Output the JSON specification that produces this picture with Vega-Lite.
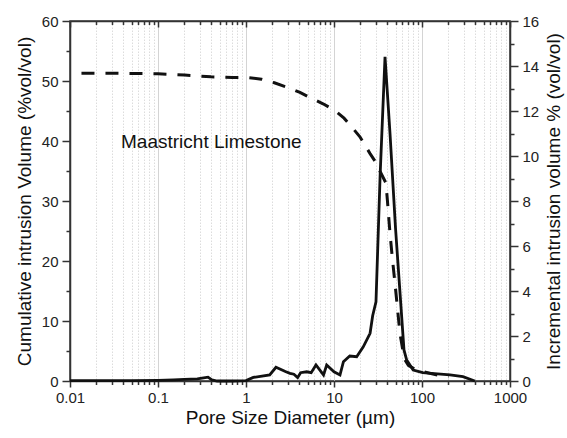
{
  "$schema": "https://vega.github.io/schema/vega-lite/v6.json",
  "width": 440,
  "height": 360,
  "autosize": {"type": "none"},
  "padding": {"left": 70, "top": 21, "right": 57, "bottom": 57},
  "background": "white",
  "config": {
    "view": {"stroke": "#333", "strokeWidth": 1.5},
    "axis": {
      "labelFont": "Liberation Sans", "labelFontSize": 15, "labelColor": "#222",
      "titleFont": "Liberation Sans", "titleFontSize": 19, "titleFontWeight": "normal", "titleColor": "#111",
      "domainColor": "#333", "domainWidth": 1.5, "tickColor": "#333", "tickWidth": 1.5,
      "labelFlush": false, "labelOverlap": false
    }
  },
  "datasets": {
    "cumulative": [
      {"d": 0.0135, "v": 51.3}, {"d": 0.03, "v": 51.3}, {"d": 0.06, "v": 51.25}, {"d": 0.1, "v": 51.2},
      {"d": 0.2, "v": 51.0}, {"d": 0.4, "v": 50.7}, {"d": 0.7, "v": 50.6}, {"d": 1.0, "v": 50.6},
      {"d": 1.5, "v": 50.3}, {"d": 2.1, "v": 49.7}, {"d": 3.0, "v": 48.9}, {"d": 4.1, "v": 48.1},
      {"d": 5.6, "v": 47.1}, {"d": 7.5, "v": 46.2}, {"d": 10.2, "v": 45.1}, {"d": 13.0, "v": 43.8},
      {"d": 15.8, "v": 42.4}, {"d": 19.7, "v": 40.7}, {"d": 25.7, "v": 37.9}, {"d": 30.0, "v": 36.4},
      {"d": 33.2, "v": 35.0}, {"d": 38.9, "v": 33.0}, {"d": 40.4, "v": 30.2}, {"d": 43.3, "v": 24.6},
      {"d": 46.0, "v": 20.5}, {"d": 49.3, "v": 16.3}, {"d": 56.2, "v": 7.9}, {"d": 61.4, "v": 4.6},
      {"d": 64.1, "v": 3.5}, {"d": 70.0, "v": 2.6}, {"d": 85.0, "v": 1.9}, {"d": 100.0, "v": 1.6},
      {"d": 137.0, "v": 1.1}, {"d": 200.0, "v": 0.7}
    ],
    "incremental": [
      {"d": 0.01, "v": 0.02}, {"d": 0.05, "v": 0.02}, {"d": 0.1, "v": 0.03}, {"d": 0.15, "v": 0.05},
      {"d": 0.2, "v": 0.07}, {"d": 0.28, "v": 0.09}, {"d": 0.33, "v": 0.14}, {"d": 0.37, "v": 0.17},
      {"d": 0.41, "v": 0.05}, {"d": 0.47, "v": 0.0}, {"d": 0.7, "v": 0.0}, {"d": 1.0, "v": 0.02},
      {"d": 1.21, "v": 0.16}, {"d": 1.86, "v": 0.27}, {"d": 2.19, "v": 0.61}, {"d": 2.8, "v": 0.42},
      {"d": 3.16, "v": 0.34}, {"d": 3.5, "v": 0.3}, {"d": 3.86, "v": 0.15}, {"d": 4.17, "v": 0.37},
      {"d": 4.9, "v": 0.41}, {"d": 5.5, "v": 0.37}, {"d": 6.24, "v": 0.71}, {"d": 7.6, "v": 0.27},
      {"d": 8.26, "v": 0.71}, {"d": 10.0, "v": 0.41}, {"d": 11.7, "v": 0.27}, {"d": 12.8, "v": 0.86},
      {"d": 15.1, "v": 1.11}, {"d": 18.1, "v": 1.08}, {"d": 21.5, "v": 1.52}, {"d": 25.7, "v": 2.12},
      {"d": 27.5, "v": 2.9}, {"d": 30.0, "v": 3.52}, {"d": 33.4, "v": 9.1}, {"d": 38.0, "v": 14.41},
      {"d": 43.3, "v": 11.0}, {"d": 50.0, "v": 6.8}, {"d": 62.4, "v": 1.38}, {"d": 67.0, "v": 0.93},
      {"d": 79.4, "v": 0.49}, {"d": 102.0, "v": 0.37}, {"d": 150.0, "v": 0.32}, {"d": 208.0, "v": 0.27},
      {"d": 292.0, "v": 0.19}, {"d": 398.0, "v": 0.0}
    ],
    "label": [
      {"d": 0.038, "v": 39.9, "text": "Maastricht Limestone"}
    ]
  },
  "layer": [
    {
      "data": {"name": "cumulative"},
      "mark": {"type": "line", "color": "#111", "strokeWidth": 3, "strokeDash": [13, 11]},
      "encoding": {
        "x": {
          "field": "d", "type": "quantitative",
          "scale": {"type": "log", "domain": [0.01, 1000], "nice": false},
          "axis": {
            "orient": "bottom",
            "title": "Pore Size Diameter (µm)",
            "titlePadding": 3,
            "values": [0.01,0.02,0.03,0.04,0.05,0.06,0.07,0.08,0.09,0.1,0.2,0.3,0.4,0.5,0.6,0.7,0.8,0.9,1,2,3,4,5,6,7,8,9,10,20,30,40,50,60,70,80,90,100,200,300,400,500,600,700,800,900,1000],
            "labelExpr": "abs(log(datum.value)/LN10 - round(log(datum.value)/LN10)) < 0.01 ? format(datum.value, '~g') : ''",
            "labelPadding": 3,
            "tickSize": {"condition": {"test": "abs(log(datum.value)/LN10 - round(log(datum.value)/LN10)) < 0.01", "value": 6}, "value": 3.5},
            "grid": true,
            "gridColor": {"condition": {"test": "abs(log(datum.value)/LN10 - round(log(datum.value)/LN10)) < 0.01", "value": "#d4d4d4"}, "value": "#dcdcdc"},
            "gridDash": {"condition": {"test": "abs(log(datum.value)/LN10 - round(log(datum.value)/LN10)) < 0.01", "value": []}, "value": [1.5, 1.5]},
            "gridWidth": 1
          }
        },
        "y": {
          "field": "v", "type": "quantitative",
          "scale": {"domain": [0, 60], "nice": false},
          "axis": {
            "orient": "left",
            "title": "Cumulative intrusion Volume (%vol/vol)",
            "titlePadding": 7,
            "values": [0,5,10,15,20,25,30,35,40,45,50,55,60],
            "labelExpr": "datum.value % 10 === 0 ? datum.label : ''",
            "tickSize": {"condition": {"test": "datum.value % 10 === 0", "value": 8}, "value": 4},
            "labelPadding": 4,
            "grid": false
          }
        }
      }
    },
    {
      "data": {"name": "incremental"},
      "mark": {"type": "line", "color": "#111", "strokeWidth": 2.8},
      "encoding": {
        "x": {"field": "d", "type": "quantitative", "scale": {"type": "log", "domain": [0.01, 1000], "nice": false}, "axis": null},
        "y": {
          "field": "v", "type": "quantitative",
          "scale": {"domain": [0, 16], "nice": false},
          "axis": {
            "orient": "right",
            "title": "Incremental intrusion volume % (vol/vol)",
            "titleAngle": 270,
            "titleBaseline": "top",
            "titlePadding": 6,
            "values": [0,1,2,3,4,5,6,7,8,9,10,11,12,13,14,15,16],
            "labelExpr": "datum.value % 2 === 0 ? datum.label : ''",
            "tickSize": {"condition": {"test": "datum.value % 2 === 0", "value": 8}, "value": 4},
            "labelPadding": 4,
            "grid": false
          }
        }
      }
    },
    {
      "data": {"name": "label"},
      "mark": {"type": "text", "align": "left", "baseline": "middle", "font": "Liberation Sans", "fontSize": 19, "color": "#111"},
      "encoding": {
        "x": {
          "field": "d", "type": "quantitative",
          "scale": {"type": "log", "domain": [0.01, 1000], "nice": false},
          "axis": {
            "orient": "top", "title": null, "labels": false, "grid": false,
            "values": [0.01,0.02,0.03,0.04,0.05,0.06,0.07,0.08,0.09,0.1,0.2,0.3,0.4,0.5,0.6,0.7,0.8,0.9,1,2,3,4,5,6,7,8,9,10,20,30,40,50,60,70,80,90,100,200,300,400,500,600,700,800,900,1000],
            "tickSize": {"condition": {"test": "abs(log(datum.value)/LN10 - round(log(datum.value)/LN10)) < 0.01", "value": -6}, "value": -3.5}
          }
        },
        "y": {"field": "v", "type": "quantitative", "scale": {"domain": [0, 60], "nice": false}, "axis": null},
        "text": {"field": "text"}
      }
    }
  ],
  "resolve": {"scale": {"y": "independent"}, "axis": {"x": "independent", "y": "independent"}}
}
